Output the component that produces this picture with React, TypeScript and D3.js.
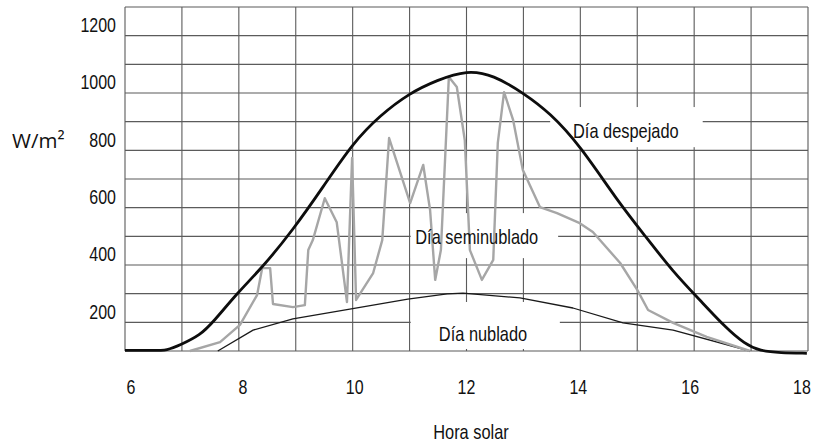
import React from 'react';
import * as d3 from 'd3';

// ---- data ----
const xTickHours = [6, 8, 10, 12, 14, 16, 18];
const yTickValues = [200, 400, 600, 800, 1000, 1200];
const gridHours = d3.range(6, 19, 1);
const gridValues = d3.range(0, 1300, 100);

// Día despejado (clear day)
const clearHours = [6.0, 6.5, 6.74, 6.97, 7.32, 7.55, 7.99, 8.42, 8.95, 9.48, 10.0, 10.48, 11.0, 11.48, 12.01, 12.47, 13.0, 13.47, 13.99, 14.64, 15.14, 15.63, 16.1, 16.54, 16.89, 17.16, 17.51, 17.98];
const clearValues = [2, 2, 2, 21, 55, 101, 206, 293, 422, 572, 725, 822, 900, 945, 980, 963, 900, 830, 718, 527, 401, 276, 178, 84, 24, 0, -6, -8];

// Día seminublado (partly cloudy day)
const semiHours = [7.14, 7.67, 8.02, 8.32, 8.41, 8.55, 8.6, 8.95, 9.16, 9.22, 9.3, 9.51, 9.72, 9.9, 9.99, 10.06, 10.36, 10.52, 10.64, 11.01, 11.24, 11.36, 11.45, 11.55, 11.69, 11.83, 11.97, 12.06, 12.27, 12.47, 12.55, 12.66, 12.82, 12.99, 13.29, 13.59, 13.99, 14.22, 14.7, 15.0, 15.19, 15.63, 16.22, 16.98];
const semiValues = [0, 31, 91, 195, 289, 289, 164, 153, 160, 352, 387, 533, 449, 171, 673, 178, 272, 387, 743, 516, 649, 492, 248, 352, 956, 921, 735, 352, 248, 318, 726, 903, 805, 631, 502, 481, 446, 415, 307, 213, 143, 98, 49, 0];

// Día nublado (cloudy day)
const cloudHours = [7.63, 8.25, 8.95, 9.95, 10.97, 11.66, 11.94, 12.94, 13.87, 14.75, 15.63, 16.98];
const cloudValues = [0, 73, 112, 146, 181, 199, 202, 185, 150, 98, 73, 0];

const seriesLabels = ['Día despejado', 'Día seminublado', 'Día nublado'];
const yAxisTitle = 'W/m²';
const xAxisTitle = 'Hora solar';

// ---- layout ----
const W = 815;
const H = 444;
const x = d3.scaleLinear().domain([6, 18]).range([125, 808]);
const y = d3.scaleLinear().domain([0, 1200]).range([351, 7]);
const xLabelScale = d3.scaleLinear().domain([6, 18]).range([131, 802]);

const FONT = "'Liberation Sans', Arial, sans-serif";
const NARROW_SCALE = 0.82;

const zip = (a: number[], b: number[]) => a.map((v, i) => [v, b[i]] as [number, number]);

// label placements in data coordinates
const labelPlacement = [
  { h: 14.8, v: 743, box: [13.47, 16.15, 851, 711] },
  { h: 12.18, v: 373, box: [11.02, 13.61, 481, 324] },
  { h: 12.29, v: 35, box: [11.02, 13.64, 171, 7] },
];

function NarrowText(props: { x: number; y: number; anchor: string; size: number; children: React.ReactNode }) {
  return (
    <g transform={`translate(${props.x},${props.y}) scale(${NARROW_SCALE},1)`}>
      <text x={0} y={0} textAnchor={props.anchor} fontFamily={FONT} fontSize={props.size} fill="#111">
        {props.children}
      </text>
    </g>
  );
}

export default function App() {
  const clearPath =
    d3
      .line<[number, number]>()
      .x((d) => x(d[0]))
      .y((d) => y(d[1]))
      .curve(d3.curveBasis)(zip(clearHours, clearValues)) || '';
  const plain = d3
    .line<[number, number]>()
    .x((d) => x(d[0]))
    .y((d) => y(d[1]));
  const semiPath = plain(zip(semiHours, semiValues)) || '';
  const cloudPath = plain(zip(cloudHours, cloudValues)) || '';

  return (
    <svg
      width={W}
      height={H}
      viewBox={`0 0 ${W} ${H}`}
      style={{ position: 'fixed', left: 0, top: 0, background: '#fff' }}
    >
      <rect x={0} y={0} width={W} height={H} fill="#fff" />
      {/* grid */}
      <g stroke="#4a4a4a" strokeWidth={1.1} opacity={0.9}>
        {gridHours.map((h) => (
          <line key={'v' + h} x1={x(h)} x2={x(h)} y1={y(1200)} y2={y(0)} />
        ))}
        {gridValues.map((v) => (
          <line key={'h' + v} x1={x(6)} x2={x(18)} y1={y(v)} y2={y(v)} />
        ))}
      </g>
      {/* white label boxes */}
      {labelPlacement.map((p, i) => (
        <rect
          key={'box' + i}
          x={x(p.box[0])}
          y={y(p.box[2])}
          width={x(p.box[1]) - x(p.box[0])}
          height={y(p.box[3]) - y(p.box[2])}
          fill="#fff"
        />
      ))}
      {/* series */}
      <path d={cloudPath} fill="none" stroke="#1a1a1a" strokeWidth={1.3} strokeLinejoin="round" />
      <path d={semiPath} fill="none" stroke="#a6a6a6" strokeWidth={2.4} strokeLinejoin="round" />
      <path d={clearPath} fill="none" stroke="#0d0d0d" strokeWidth={2.8} strokeLinejoin="round" />
      {/* series labels */}
      {labelPlacement.map((p, i) => (
        <NarrowText key={'lab' + i} x={x(p.h)} y={y(p.v)} anchor="middle" size={20}>
          {seriesLabels[i]}
        </NarrowText>
      ))}
      {/* y tick labels */}
      {yTickValues.map((v) => (
        <NarrowText key={'yt' + v} x={116} y={y(v) + 25} anchor="end" size={19.5}>
          {v}
        </NarrowText>
      ))}
      {/* x tick labels */}
      {xTickHours.map((h) => (
        <NarrowText key={'xt' + h} x={xLabelScale(h)} y={394} anchor="middle" size={19.5}>
          {h}
        </NarrowText>
      ))}
      <NarrowText x={471} y={439} anchor="middle" size={20}>
        {xAxisTitle}
      </NarrowText>
      <text x={12} y={148} fontFamily="'Open Sans', 'Noto Sans', sans-serif" fontSize={20.5} fill="#111">
        {yAxisTitle}
      </text>
    </svg>
  );
}
